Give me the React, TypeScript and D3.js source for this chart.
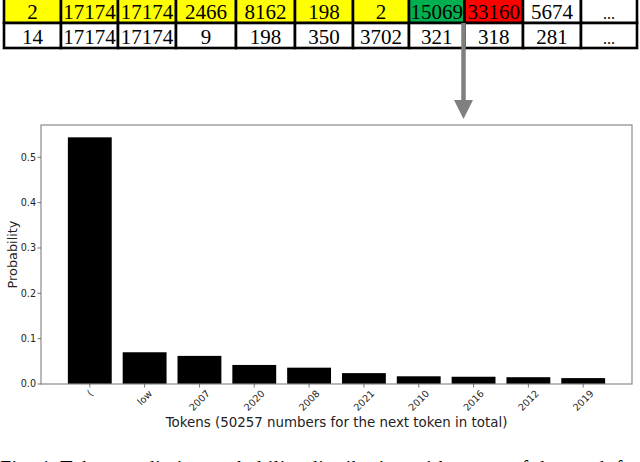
import React, { useEffect, useRef } from 'react';
import * as d3 from 'd3';

// token ids shown in the table above the chart
const inputIds = ['2', '17174', '17174', '2466', '8162', '198', '2', '15069', '33160', '5674', '...'];
const targetIds = ['14', '17174', '17174', '9', '198', '350', '3702', '321', '318', '281', '...'];
const inputColors = ['#ffff00', '#ffff00', '#ffff00', '#ffff00', '#ffff00', '#ffff00', '#ffff00', '#00b050', '#ff0000', '#ffffff', '#ffffff'];

// bar chart data
const tokens = ['(', 'low', '2007', '2020', '2008', '2021', '2010', '2016', '2012', '2019'];
const probs = [0.544, 0.07, 0.062, 0.042, 0.036, 0.024, 0.017, 0.016, 0.015, 0.013];
const yTicks = [0.0, 0.1, 0.2, 0.3, 0.4, 0.5];

const W = 640;
const H = 462;

export default function App() {
    const ref = useRef<SVGSVGElement>(null);

    useEffect(() => {
        const svg = d3.select(ref.current);
        svg.selectAll('*').remove();

        // ---- table ----
        const colEdges = [4, 61, 118, 176, 236, 295, 353, 409, 464.5, 523, 581, 637];
        const rowEdges = [-2, 23, 48];
        const table = svg.append('g');
        const rows = [inputIds, targetIds];
        rows.forEach((row, r) => {
            row.forEach((v, i) => {
                const x0 = colEdges[i];
                const x1 = colEdges[i + 1];
                table.append('rect')
                    .attr('x', x0).attr('y', rowEdges[r])
                    .attr('width', x1 - x0).attr('height', rowEdges[r + 1] - rowEdges[r])
                    .attr('fill', r === 0 ? inputColors[i] : '#fff')
                    .attr('stroke', '#000').attr('stroke-width', 2.6);
                table.append('text')
                    .attr('x', (x0 + x1) / 2)
                    .attr('y', rowEdges[r + 1] - 4)
                    .attr('text-anchor', 'middle')
                    .attr('font-family', '"Liberation Serif", "Times New Roman", serif')
                    .attr('font-size', v === '...' ? 16 : 21)
                    .attr('fill', '#000')
                    .text(v);
            });
        });

        // ---- arrow ----
        svg.append('line')
            .attr('x1', 463.5).attr('x2', 463.5)
            .attr('y1', 23).attr('y2', 101)
            .attr('stroke', '#808080').attr('stroke-width', 4.5);
        svg.append('path')
            .attr('d', 'M454,100 L473,100 L463.5,119 Z')
            .attr('fill', '#808080');

        // ---- bar chart ----
        const left = 41, right = 632, top = 125, bottom = 384;
        const n = tokens.length;
        const pad = 0.05 * (n - 1 + 0.8);
        const x = d3.scaleLinear().domain([-0.4 - pad, n - 1 + 0.4 + pad]).range([left, right]);
        const y = d3.scaleLinear().domain([0, d3.max(probs)! * 1.05]).range([bottom, top]);

        const g = svg.append('g');
        g.selectAll('.bar')
            .data(probs)
            .enter().append('rect')
            .attr('class', 'bar')
            .attr('x', (d, i) => x(i - 0.4))
            .attr('y', d => y(d))
            .attr('width', x(0.8) - x(0))
            .attr('height', d => bottom - y(d))
            .attr('fill', '#000');

        g.append('rect')
            .attr('x', left).attr('y', top)
            .attr('width', right - left).attr('height', bottom - top)
            .attr('fill', 'none').attr('stroke', '#8a8a8a').attr('stroke-width', 1.2);

        const font = '"DejaVu Sans", sans-serif';
        const tickSize = 9.6;

        // y axis
        yTicks.forEach(t => {
            g.append('line')
                .attr('x1', left - 3.5).attr('x2', left)
                .attr('y1', y(t)).attr('y2', y(t))
                .attr('stroke', '#555').attr('stroke-width', 0.8);
            g.append('text')
                .attr('x', left - 5).attr('y', y(t))
                .attr('dy', '0.35em')
                .attr('text-anchor', 'end')
                .attr('font-family', font).attr('font-size', tickSize)
                .attr('fill', '#222')
                .text(d3.format('.1f')(t));
        });
        // the source figure is stretched vertically a bit, so the y label runs longer
        g.append('text')
            .attr('transform', `translate(17,${(top + bottom) / 2}) rotate(-90)`)
            .attr('text-anchor', 'middle')
            .attr('font-family', font).attr('font-size', 13)
            .attr('textLength', 68)
            .attr('lengthAdjust', 'spacingAndGlyphs')
            .attr('fill', '#222')
            .text('Probability');

        // x axis
        tokens.forEach((tk, i) => {
            const tx = x(i);
            g.append('line')
                .attr('x1', tx).attr('x2', tx)
                .attr('y1', bottom).attr('y2', bottom + 3.5)
                .attr('stroke', '#555').attr('stroke-width', 0.8);
            const txt = g.append('text')
                .attr('text-anchor', 'middle')
                .attr('dominant-baseline', 'central')
                .attr('font-family', font).attr('font-size', tickSize)
                .attr('fill', '#222')
                .text(tk);
            const w = (txt.node() as SVGTextElement).getComputedTextLength();
            const rh = (w + tickSize * 0.8) * Math.SQRT1_2;
            txt.attr('transform', `translate(${tx},${bottom + 5 + rh / 2}) rotate(-45)`);
        });
        g.append('text')
            .attr('x', (left + right) / 2).attr('y', 427)
            .attr('text-anchor', 'middle')
            .attr('font-family', font).attr('font-size', 13.4)
            .attr('fill', '#222')
            .text('Tokens (50257 numbers for the next token in total)');

        // ---- cut-off caption ----
        svg.append('text')
            .attr('x', 0).attr('y', 475)
            .attr('font-family', '"Liberation Serif", "Times New Roman", serif')
            .attr('font-size', 20)
            .attr('textLength', 640)
            .attr('lengthAdjust', 'spacing')
            .attr('fill', '#000')
            .text('Fig. 4.   Token prediction probability distribution with a case of the top-k for');
    }, []);

    return (
        <svg ref={ref} width={W} height={H}
            style={{ position: 'absolute', left: 0, top: 0, background: '#fff' }} />
    );
}
